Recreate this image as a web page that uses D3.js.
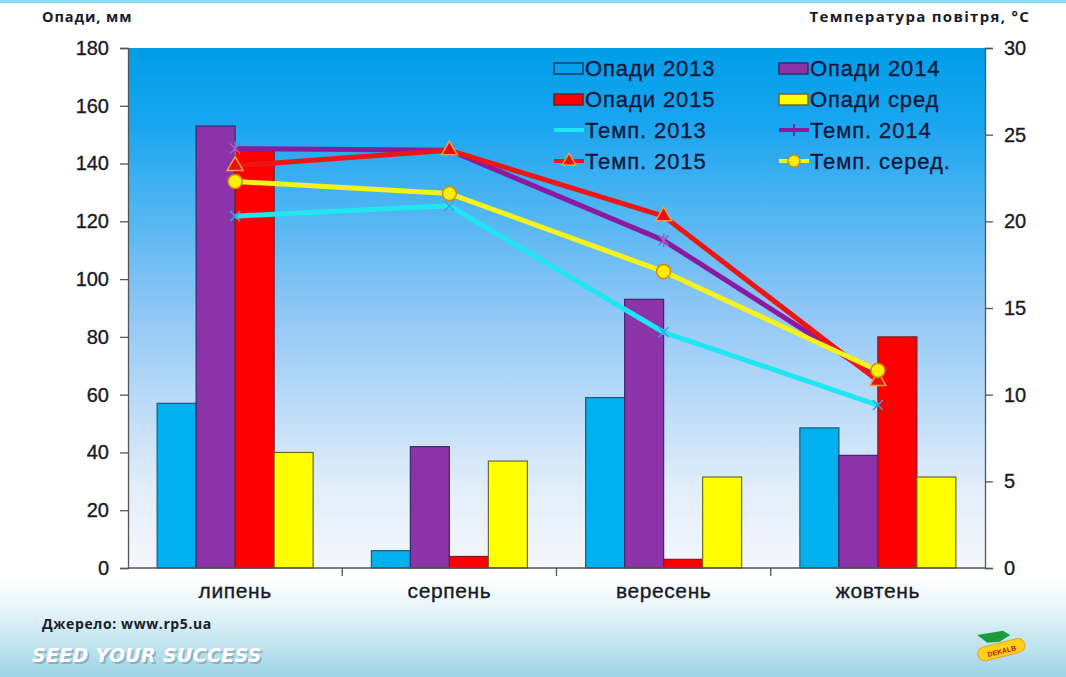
<!DOCTYPE html>
<html><head><meta charset="utf-8">
<script src="https://cdn.jsdelivr.net/npm/d3@7"></script>
<style>html,body{margin:0;padding:0;background:#fff;}svg{display:block;}</style>
</head><body>
<script>
const categories = ["липень", "серпень", "вересень", "жовтень"];
const rain2013 = [57, 6, 59, 48.5];
const rain2014 = [153, 42, 93, 39];
const rain2015 = [145, 4, 3, 80];
const rainAvg = [40, 37, 31.5, 31.5];
const temp2013 = [20.3, 20.9, 13.6, 9.4];
const temp2014 = [24.2, 24.1, 18.9, 11.0];
const temp2015 = [23.2, 24.1, 20.3, 10.8];
const tempAvg = [22.3, 21.6, 17.1, 11.4];
const leftTicks = [0, 20, 40, 60, 80, 100, 120, 140, 160, 180];
const rightTicks = [0, 5, 10, 15, 20, 25, 30];

const W = 1066, H = 677;
const M = {left: 128, right: 985, top: 48, bottom: 568};
const svg = d3.select("body").append("svg").attr("width", W).attr("height", H);
const defs = svg.append("defs");

const pageG = defs.append("linearGradient").attr("id", "pageG").attr("x1", 0).attr("y1", 0).attr("x2", 0).attr("y2", 1);
pageG.append("stop").attr("offset", "0").attr("stop-color", "#ffffff");
pageG.append("stop").attr("offset", "0.855").attr("stop-color", "#ffffff");
pageG.append("stop").attr("offset", "0.9").attr("stop-color", "#e6f4f9");
pageG.append("stop").attr("offset", "0.95").attr("stop-color", "#c2e5ef");
pageG.append("stop").attr("offset", "1").attr("stop-color", "#9dd3e4");
svg.append("rect").attr("width", W).attr("height", H).attr("fill", "url(#pageG)");
svg.append("rect").attr("width", W).attr("height", 3).attr("fill", "#7fdcf2");

const plotG = defs.append("linearGradient").attr("id", "plotG").attr("x1", 0).attr("y1", 0).attr("x2", 0).attr("y2", 1);
plotG.append("stop").attr("offset", "0").attr("stop-color", "#009de8");
plotG.append("stop").attr("offset", "0.15").attr("stop-color", "#1aa6f0");
plotG.append("stop").attr("offset", "0.5").attr("stop-color", "#8ec6f5");
plotG.append("stop").attr("offset", "0.85").attr("stop-color", "#e3eefa");
plotG.append("stop").attr("offset", "1").attr("stop-color", "#f4f7fc");
svg.append("rect").attr("x", M.left).attr("y", M.top).attr("width", M.right - M.left).attr("height", M.bottom - M.top).attr("fill", "url(#plotG)");

const x = d3.scaleBand().domain(categories).range([M.left, M.right]);
const yL = d3.scaleLinear().domain([0, 180]).range([M.bottom, M.top]);
const yR = d3.scaleLinear().domain([0, 30]).range([M.bottom, M.top]);
const barSeries = [
  {name: "Опади 2013", vals: rain2013, fill: "#00b0ef", stroke: "#1d5a7a"},
  {name: "Опади 2014", vals: rain2014, fill: "#8c33aa", stroke: "#3a2a6a"},
  {name: "Опади 2015", vals: rain2015, fill: "#ff0000", stroke: "#7a1a2a"},
  {name: "Опади сред", vals: rainAvg, fill: "#ffff00", stroke: "#6a6a2a"}
];
const x1 = d3.scaleBand().domain(d3.range(4)).range([0, 156]);
const groupOff = (x.bandwidth() - 156) / 2;

barSeries.forEach((s, si) => {
  svg.append("g").selectAll("rect").data(s.vals).join("rect")
    .attr("x", (d, i) => x(categories[i]) + groupOff + x1(si))
    .attr("y", d => yL(d))
    .attr("width", x1.bandwidth())
    .attr("height", d => yL(0) - yL(d))
    .attr("fill", s.fill).attr("stroke", s.stroke).attr("stroke-width", 1.2);
});

const axisFont = "'Liberation Sans', Arial, sans-serif";
const txtCol = "#1a1a24";
// axes
const gl = svg.append("g").attr("transform", `translate(${M.left},0)`)
  .call(d3.axisLeft(yL).tickValues(leftTicks).tickSize(8).tickPadding(11));
const gr = svg.append("g").attr("transform", `translate(${M.right},0)`)
  .call(d3.axisRight(yR).tickValues(rightTicks).tickSize(8).tickPadding(11));
const gb = svg.append("g").attr("transform", `translate(0,${M.bottom})`)
  .call(d3.axisBottom(x).tickSize(0).tickPadding(15));
[gl, gr, gb].forEach(g => {
  g.selectAll("path").attr("stroke", "#555").attr("stroke-width", 1.3);
  g.selectAll("line").attr("stroke", "#555").attr("stroke-width", 1.3);
  g.selectAll("text").attr("font-family", axisFont).attr("font-size", 20).attr("fill", txtCol)
    .attr("stroke", txtCol).attr("stroke-width", 0.35);
});
gb.select("path").attr("d", `M${M.left},0H${M.right}`);
gb.selectAll("text").attr("font-size", 21).attr("letter-spacing", 0.6);
// category boundary ticks
svg.append("g").selectAll("line").data(categories.slice(1)).join("line")
  .attr("x1", d => x(d)).attr("x2", d => x(d))
  .attr("y1", M.bottom).attr("y2", M.bottom + 8)
  .attr("stroke", "#555").attr("stroke-width", 1.3);

// lines
const lineSeries = [
  {name: "Темп. 2013", vals: temp2013, color: "#1fe6f2", marker: "x"},
  {name: "Темп. 2014", vals: temp2014, color: "#8a1a9e", marker: "star"},
  {name: "Темп. 2015", vals: temp2015, color: "#ee1515", marker: "tri"},
  {name: "Темп. серед.", vals: tempAvg, color: "#f6f21a", marker: "circle"}
];
const cx = i => x(categories[i]) + x.bandwidth() / 2;
const line = d3.line().x((d, i) => cx(i)).y(d => yR(d));

function drawMarker(g, type, px, py) {
  if (type === "x") {
    g.append("path").attr("d", `M${px-5},${py-5}L${px+5},${py+5}M${px-5},${py+5}L${px+5},${py-5}`)
      .attr("stroke", "#3aa0d8").attr("stroke-width", 1.5);
  } else if (type === "star") {
    g.append("path").attr("d", `M${px-5},${py-5}L${px+5},${py+5}M${px-5},${py+5}L${px+5},${py-5}M${px},${py-7}L${px},${py+7}`)
      .attr("stroke", "#a060c8").attr("stroke-width", 1.5);
  } else if (type === "tri") {
    g.append("path").attr("d", d3.symbol(d3.symbolTriangle, 110)()).attr("transform", `translate(${px},${py})`)
      .attr("fill", "#e81010").attr("stroke", "#f0a040").attr("stroke-width", 1.5);
  } else if (type === "circle") {
    g.append("circle").attr("cx", px).attr("cy", py).attr("r", 7)
      .attr("fill", "#ffee00").attr("stroke", "#d08a10").attr("stroke-width", 1.5);
  }
}

lineSeries.forEach(s => {
  const g = svg.append("g");
  g.append("path").datum(s.vals).attr("d", line).attr("fill", "none")
    .attr("stroke", s.color).attr("stroke-width", 5).attr("stroke-linejoin", "round");
  s.vals.forEach((v, i) => drawMarker(g, s.marker, cx(i), yR(v)));
});

// legend
const legItems = [
  {t: "Опади 2013", kind: "box", fill: "none", stroke: "#1a3a6a"},
  {t: "Опади 2014", kind: "box", fill: "#8c33aa", stroke: "#3a2a6a"},
  {t: "Опади 2015", kind: "box", fill: "#ff0000", stroke: "#7a1a2a"},
  {t: "Опади сред", kind: "box", fill: "#ffff00", stroke: "#6a6a2a"},
  {t: "Темп. 2013", kind: "line", color: "#1fe6f2", marker: "x"},
  {t: "Темп. 2014", kind: "line", color: "#8a1a9e", marker: "star"},
  {t: "Темп. 2015", kind: "line", color: "#ee1515", marker: "tri"},
  {t: "Темп. серед.", kind: "line", color: "#f6f21a", marker: "circle"}
];
const legG = svg.append("g");
legItems.forEach((it, k) => {
  const col = k % 2, row = Math.floor(k / 2);
  const lx = col === 0 ? 554 : 779, ly = 68 + row * 31;
  if (it.kind === "box") {
    legG.append("rect").attr("x", lx).attr("y", ly - 5).attr("width", 29).attr("height", 11)
      .attr("fill", it.fill).attr("stroke", it.stroke).attr("stroke-width", 1.5);
  } else {
    legG.append("line").attr("x1", lx).attr("x2", lx + 30).attr("y1", ly).attr("y2", ly)
      .attr("stroke", it.color).attr("stroke-width", 4);
    if (it.marker === "tri") {
      legG.append("path").attr("d", d3.symbol(d3.symbolTriangle, 80)()).attr("transform", `translate(${lx+15},${ly})`)
        .attr("fill", "#e81010").attr("stroke", "#f0a040").attr("stroke-width", 1.5);
    } else if (it.marker === "circle") {
      legG.append("circle").attr("cx", lx + 15).attr("cy", ly).attr("r", 6)
        .attr("fill", "#ffee00").attr("stroke", "#d08a10").attr("stroke-width", 1.5);
    } else if (it.marker === "star") {
      legG.append("path").attr("d", `M${lx+15},${ly-6}L${lx+15},${ly+6}`).attr("stroke", "#8a1a9e").attr("stroke-width", 2);
    }
  }
  legG.append("text").attr("x", lx + 31).attr("y", ly).attr("dy", "0.36em")
    .attr("font-family", axisFont).attr("font-size", 22).attr("letter-spacing", 0.9)
    .attr("fill", "#14183a").attr("stroke", "#14183a").attr("stroke-width", 0.35).text(it.t);
});

// titles
const titleFont = "'Open Sans', 'DejaVu Sans', sans-serif";
svg.append("text").attr("x", 42).attr("y", 22).attr("font-family", titleFont)
  .attr("font-weight", "bold").attr("font-size", 14.5).attr("letter-spacing", 0.9).attr("fill", "#1a1a2a").text("Опади, мм");
svg.append("text").attr("x", 1030).attr("y", 22).attr("text-anchor", "end").attr("font-family", titleFont)
  .attr("font-weight", "bold").attr("font-size", 15).attr("letter-spacing", 1.3).attr("fill", "#1a1a2a").text("Температура повітря, °С");
svg.append("text").attr("x", 42).attr("y", 629).attr("font-family", titleFont)
  .attr("font-weight", "bold").attr("font-size", 14).attr("letter-spacing", 0.6).attr("fill", "#1a1a2a").text("Джерело: www.rp5.ua");
// footer slogan
svg.append("text").attr("x", 34).attr("y", 664).attr("font-family", "'DejaVu Sans', sans-serif")
  .attr("font-weight", "bold").attr("font-style", "italic").attr("font-size", 19).attr("letter-spacing", 0.3)
  .attr("fill", "#6a8a98").attr("opacity", 0.5).text("SEED YOUR SUCCESS");
svg.append("text").attr("x", 32).attr("y", 662).attr("font-family", "'DejaVu Sans', sans-serif")
  .attr("font-weight", "bold").attr("font-style", "italic").attr("font-size", 19).attr("letter-spacing", 0.3)
  .attr("fill", "#ffffff").text("SEED YOUR SUCCESS");
// small logo
const logo = svg.append("g").attr("transform", "translate(1000,652) rotate(-14)");
logo.append("path").attr("d", "M-18,-22 L8,-20 L14,-14 L2,-10 L-10,-12 Z").attr("fill", "#1a9a3a");
logo.append("rect").attr("x", -22).attr("y", -9).attr("width", 48).attr("height", 14).attr("rx", 7)
  .attr("fill", "#ffd21a").attr("stroke", "#f0a020");
logo.append("text").attr("x", 2).attr("y", 2).attr("text-anchor", "middle").attr("font-family", axisFont)
  .attr("font-size", 7).attr("font-weight", "bold").attr("fill", "#c0101a").text("DEKALB");
</script>
</body></html>
